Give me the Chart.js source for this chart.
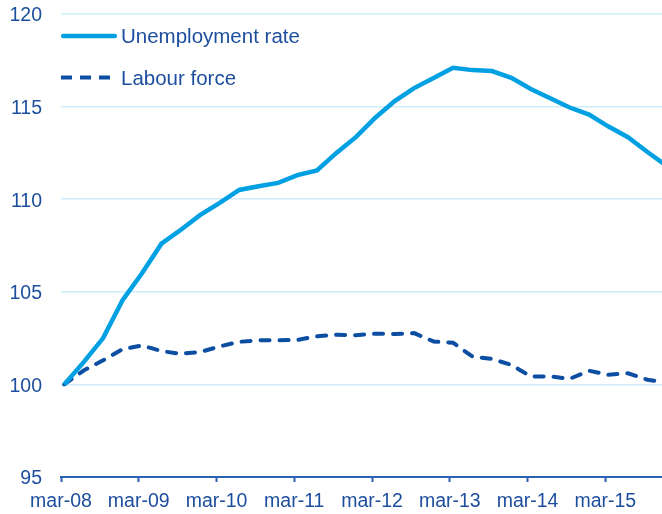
<!DOCTYPE html>
<html lang="en">
<head>
<meta charset="UTF-8" />
<title>Unemployment rate and labour force</title>
<style>
  body {
    margin: 0;
    background-color: #ffffff;
  }
  #wrap {
    width: 662px;
    height: 514px;
    position: relative;
  }
</style>
</head>
<body>
<div id="wrap">
  <canvas id="indexChart" aria-label="Unemployment rate and labour force, index" role="img"></canvas>
</div>

<script src="https://cdn.jsdelivr.net/npm/chart.js@4"></script>
<script>
  // quarterly observations, index mar-08 = 100
  const quarters = [
    'mar-08', 'jun-08', 'sep-08', 'dec-08',
    'mar-09', 'jun-09', 'sep-09', 'dec-09',
    'mar-10', 'jun-10', 'sep-10', 'dec-10',
    'mar-11', 'jun-11', 'sep-11', 'dec-11',
    'mar-12', 'jun-12', 'sep-12', 'dec-12',
    'mar-13', 'jun-13', 'sep-13', 'dec-13',
    'mar-14', 'jun-14', 'sep-14', 'dec-14',
    'mar-15', 'jun-15', 'sep-15', 'dec-15'
  ];

  const unemploymentRate = [
    100.0, 101.2, 102.5, 104.55,
    106.0, 107.6, 108.35, 109.15,
    109.8, 110.5, 110.7, 110.88,
    111.3, 111.55, 112.5, 113.35,
    114.4, 115.3, 116.0, 116.55,
    117.1, 116.97, 116.92, 116.55,
    115.95, 115.45, 114.95, 114.57,
    113.92, 113.35, 112.55, 111.8
  ];

  const labourForce = [
    100.0, 100.75, 101.3, 101.9,
    102.1, 101.8, 101.65, 101.75,
    102.05, 102.3, 102.38, 102.38,
    102.4, 102.6, 102.68, 102.65,
    102.74, 102.72, 102.77, 102.32,
    102.25, 101.5, 101.38, 101.05,
    100.43, 100.43, 100.3, 100.74,
    100.52, 100.6, 100.25, 100.1
  ];

  const tickLabels = ['mar-08', 'mar-09', 'mar-10', 'mar-11', 'mar-12', 'mar-13', 'mar-14', 'mar-15'];
  const yTicks = [95, 100, 105, 110, 115, 120];

  const TEXT = '#1d4e9e';
  const AXIS = '#2d62b3';
  const GRID = '#cfeefb';
  const LIGHT = '#00a0e2';
  const DARK = '#0b4ea2';
  const FONT = '"Liberation Sans", Arial, sans-serif';

  const MONTHS = ['jan','feb','mar','apr','may','jun','jul','aug','sep','oct','nov','dec'];
  // months since start of march 2008
  function monthIndex(label) {
    const [m, y] = label.split('-');
    return (2000 + Number(y) - 2008) * 12 + MONTHS.indexOf(m) - 2;
  }
  // observations sit in the middle of their month
  const toPoints = values => values.map((v, i) => ({ x: monthIndex(quarters[i]) + 0.5, y: v }));

  // legend drawn inside the plot, top left
  const insideLegend = {
    id: 'insideLegend',
    afterDatasetsDraw(chart) {
      const { ctx, chartArea } = chart;
      const rows = [
        { text: 'Unemployment rate', color: LIGHT, dash: [], cap: 'round', width: 4.5, from: 2.2, to: 53.8, ly: 22, ty: 23.5 },
        { text: 'Labour force', color: DARK, dash: [11, 8], cap: 'butt', width: 4, from: 0, to: 49, ly: 63.5, ty: 65 }
      ];
      ctx.save();
      rows.forEach(r => {
        const y = chartArea.top + r.ly;
        ctx.beginPath();
        ctx.setLineDash(r.dash);
        ctx.lineCap = r.cap;
        ctx.lineWidth = r.width;
        ctx.strokeStyle = r.color;
        ctx.moveTo(chartArea.left + r.from, y);
        ctx.lineTo(chartArea.left + r.to, y);
        ctx.stroke();
        ctx.setLineDash([]);
        ctx.fillStyle = TEXT;
        ctx.font = '20.5px ' + FONT;
        ctx.textBaseline = 'middle';
        ctx.textAlign = 'left';
        ctx.fillText(r.text, chartArea.left + 60, chartArea.top + r.ty);
      });
      ctx.restore();
    }
  };

  const ctx = document.getElementById('indexChart').getContext('2d');

  new Chart(ctx, {
    type: 'line',
    data: {
      datasets: [
        {
          label: 'Unemployment rate',
          data: toPoints(unemploymentRate),
          borderColor: LIGHT,
          backgroundColor: LIGHT,
          borderWidth: 4.5,
          pointRadius: 0,
          tension: 0,
          fill: false
        },
        {
          label: 'Labour force',
          data: toPoints(labourForce),
          borderColor: DARK,
          backgroundColor: DARK,
          borderWidth: 4,
          borderDash: [9, 10],
          borderCapStyle: 'round',
          pointRadius: 0,
          tension: 0,
          fill: false
        }
      ]
    },
    options: {
      responsive: true,
      maintainAspectRatio: false,
      animation: false,
      layout: { padding: { top: 14, left: 0, right: 0, bottom: 0 } },
      scales: {
        x: {
          type: 'linear',
          min: 0,
          max: 92.75,
          afterBuildTicks: axis => {
            axis.ticks = tickLabels.map(l => ({ value: monthIndex(l) }));
          },
          afterFit: axis => { axis.height = 37; },
          ticks: {
            autoSkip: false,
            maxRotation: 0,
            padding: 8,
            color: TEXT,
            font: { family: FONT, size: 19.5 },
            callback: (value, index) => tickLabels[index]
          },
          grid: {
            drawOnChartArea: false,
            drawTicks: true,
            tickLength: 5,
            tickWidth: 2,
            color: AXIS
          },
          border: { display: true, color: AXIS, width: 2 }
        },
        y: {
          min: 95,
          max: 120,
          afterBuildTicks: axis => {
            axis.ticks = yTicks.map(v => ({ value: v }));
          },
          afterFit: axis => {
            axis.width = 61;
            axis.paddingTop = 0;
            axis.paddingBottom = 0;
          },
          ticks: {
            padding: 19,
            labelOffset: 2,
            color: TEXT,
            font: { family: FONT, size: 19.5 }
          },
          grid: {
            drawTicks: false,
            lineWidth: 1.5,
            color: c => (c.tick && c.tick.value === 95 ? 'rgba(0,0,0,0)' : GRID)
          },
          border: { display: false }
        }
      },
      plugins: {
        legend: { display: false },
        tooltip: { enabled: false }
      }
    },
    plugins: [insideLegend]
  });
</script>
</body>
</html>
